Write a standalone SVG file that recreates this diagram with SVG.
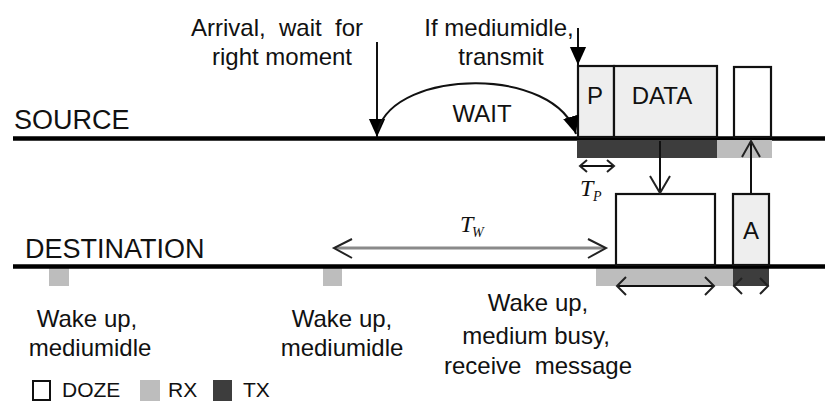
<svg xmlns="http://www.w3.org/2000/svg" width="825" height="404" viewBox="0 0 825 404">
<defs>
<style>
text{font-family:"Liberation Sans",Arial,sans-serif;fill:#111;}
.lbl{font-size:24px;}
.big{font-size:27px;}
.math{font-family:"Liberation Serif","Times New Roman",serif;font-style:italic;}
.axis{stroke:#000;stroke-width:4.5;fill:none;}
.box{stroke:#111;stroke-width:2.2;}
.rx{fill:#bdbdbd;}
.tx{fill:#3d3d3d;}
.light{fill:#eeeeee;}
.ln{stroke:#111;stroke-width:2;fill:none;}
.chev{stroke:#222;stroke-width:2;fill:none;stroke-linejoin:miter;}
</style>
<marker id="triBig" viewBox="0 0 10 10" refX="10" refY="5" markerWidth="18" markerHeight="18" markerUnits="userSpaceOnUse" orient="auto">
<path d="M0,0.5 L10,5 L0,9.5 z" fill="#000"/>
</marker>
</defs>
<rect width="825" height="404" fill="#fff"/>

<g id="source">
<text class="big" x="14" y="129">SOURCE</text>
<line class="axis" x1="13" y1="138.5" x2="825" y2="138.5"/>
<rect class="tx" x="577" y="140" width="140" height="18"/>
<rect class="rx" x="717" y="140" width="55" height="18"/>
</g>

<g id="destination">
<text class="big" x="25" y="258">DESTINATION</text>
<rect class="rx" x="49" y="268" width="20" height="18"/>
<rect class="rx" x="323" y="268" width="19" height="18"/>
<rect class="rx" x="596" y="268" width="137" height="18"/>
<rect class="tx" x="733" y="268" width="36" height="18"/>
<line class="axis" x1="13" y1="266.5" x2="825" y2="266.5"/>
</g>

<g id="box-p">
<rect class="box light" x="578" y="66" width="36" height="71"/>
<text class="lbl" x="595" y="104" text-anchor="middle">P</text>
</g>
<g id="box-data">
<rect class="box light" x="614" y="66" width="103" height="71"/>
<text class="lbl" x="662" y="104" text-anchor="middle">DATA</text>
</g>
<g id="box-src-doze">
<rect class="box" x="734" y="67" width="37" height="70" fill="#fff"/>
</g>
<g id="box-dst-doze">
<rect class="box" x="616" y="194" width="99" height="71" fill="none" stroke="#333"/>
</g>
<g id="box-ack">
<rect class="box light" x="733" y="194" width="36" height="71"/>
<text class="lbl" x="751" y="239" text-anchor="middle">A</text>
</g>

<g id="labels">
<text class="lbl" x="277" y="36" text-anchor="middle" xml:space="preserve">Arrival,  wait  for</text>
<text class="lbl" x="282" y="65" text-anchor="middle">right moment</text>
<text class="lbl" x="499" y="36" text-anchor="middle">If mediumidle,</text>
<text class="lbl" x="501" y="65" text-anchor="middle">transmit</text>
<text class="lbl" x="482" y="122" text-anchor="middle">WAIT</text>
<text class="lbl" x="87" y="327" text-anchor="middle">Wake up,</text>
<text class="lbl" x="90" y="356" text-anchor="middle">mediumidle</text>
<text class="lbl" x="342" y="327" text-anchor="middle">Wake up,</text>
<text class="lbl" x="342" y="356" text-anchor="middle">mediumidle</text>
<text class="lbl" x="538" y="311" text-anchor="middle">Wake up,</text>
<text class="lbl" x="536" y="344" text-anchor="middle">medium busy,</text>
<text class="lbl" x="538" y="374" text-anchor="middle" xml:space="preserve">receive  message</text>
<text class="math" x="580" y="196" font-size="24">T</text>
<text class="math" x="593" y="201" font-size="14">P</text>
<text class="math" x="460" y="232" font-size="24">T</text>
<text class="math" x="472" y="237" font-size="14">W</text>
</g>

<g id="legend">
<rect x="33" y="381" width="17" height="19" fill="#fff" stroke="#111" stroke-width="2"/>
<text x="62" y="397" font-size="21">DOZE</text>
<rect class="rx" x="140" y="380" width="20" height="21"/>
<text x="168" y="397" font-size="21">RX</text>
<rect class="tx" x="213" y="380" width="19" height="21"/>
<text x="243" y="397" font-size="21">TX</text>
</g>

<g id="connectors">
<line class="ln" x1="377" y1="42" x2="377" y2="137" marker-end="url(#triBig)"/>
<line class="ln" x1="578" y1="28" x2="578" y2="65" marker-end="url(#triBig)"/>
<path class="ln" d="M378,130 C396,68 556,66 576,134" stroke-width="1.8" marker-end="url(#triBig)"/>
<line class="ln" x1="660" y1="141" x2="660" y2="193" stroke="#333"/>
<polyline class="chev" points="650,176 660,193 670,176" stroke="#333"/>
<line class="ln" x1="751" y1="194" x2="751" y2="141" stroke="#666"/>
<polyline class="chev" points="742,157 751,141 760,157" stroke="#555"/>
<line x1="335" y1="248" x2="604" y2="248" stroke="#8a8a8a" stroke-width="3"/>
<polyline class="chev" points="352,239 334,248 352,258" stroke-width="2.2"/>
<polyline class="chev" points="588,239 606,248 588,258" stroke-width="2.2"/>
<line class="ln" x1="580" y1="166" x2="614" y2="166"/>
<polyline class="chev" points="587,160 580,166 587,172"/>
<polyline class="chev" points="607,160 614,166 607,172"/>
<line class="ln" x1="617" y1="286" x2="714" y2="286"/>
<polyline class="chev" points="626,277 617,286 626,295"/>
<polyline class="chev" points="705,277 714,286 705,295"/>
<polyline class="chev" points="742,278 734,286 742,294" stroke="#888"/>
<polyline class="chev" points="760,278 768,286 760,294" stroke="#888"/>
</g>
</svg>
